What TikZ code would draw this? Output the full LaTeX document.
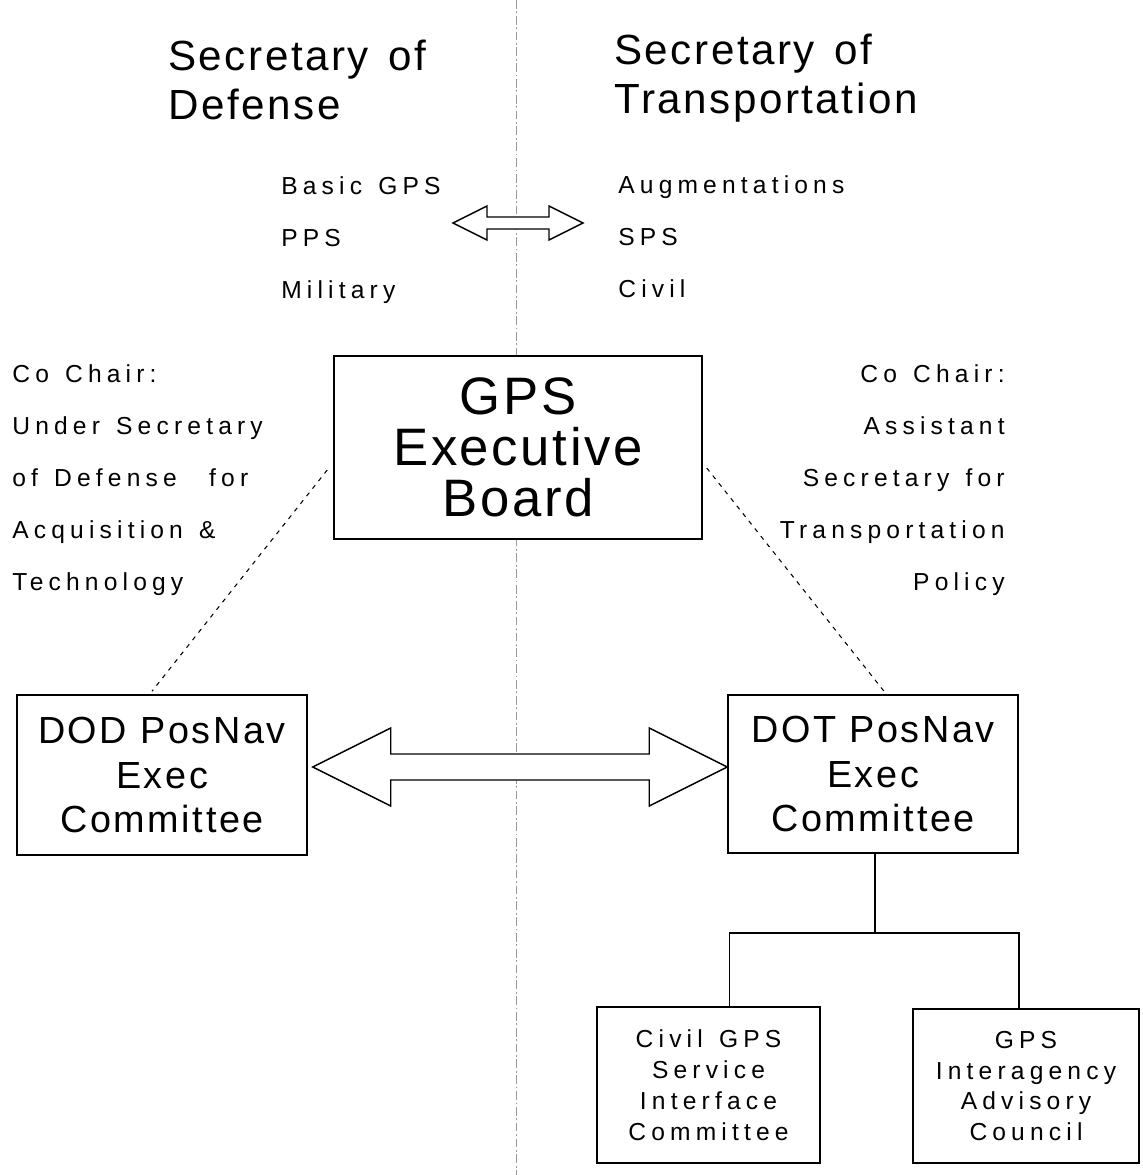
\documentclass[tikz,border=0pt]{standalone}
\usepackage{fontspec}
\setmainfont{Liberation Sans}
\newfontfamily\hdfont{Liberation Sans}[LetterSpace=6,WordSpace=1.4]
\newfontfamily\bxfont{Liberation Sans}[LetterSpace=5]
\newfontfamily\cmfont{Liberation Sans}[LetterSpace=7]
\newfontfamily\smfont{Liberation Sans}[LetterSpace=21,WordSpace=1.35]
\usepackage{tikz}
\usetikzlibrary{positioning}
\usetikzlibrary{calc}
\tikzstyle{box}=[rectangle,draw,fill=white,line width=0.9pt,align=center,inner sep=0pt]
\tikzset{hd/.style={align=left,inner sep=0pt,font={\hdfont\fontsize{24}{28.3}\selectfont}}}
\tikzset{sm/.style={inner sep=0pt,font={\smfont\fontsize{14}{29.5}\selectfont}}}
\tikzset{lnk/.style={line width=0.6pt,dash pattern=on 2.5pt off 3pt}}
\tikzset{fat/.style={draw,fill=white,line width=0.8pt,line join=miter}}

\begin{document}
\begin{tikzpicture}[x=0.02cm, y=-0.02cm]

    \useasboundingbox (0,0) rectangle (1142,1175);

    % dividing line
    \draw[gray!80, line width=0.4pt, dash pattern=on 5pt off 1.5pt on 1pt off 1.5pt] (516,0) -- (516,1175);

    \node[hd, anchor=west] (secdef) at (168,80) {Secretary of\\Defense};
    \node[hd, anchor=west] (secdot) at (614,78) {Secretary of\\Transportation};

    \node[sm, align=left, anchor=west] (dodsvc) at (281,240) {Basic GPS\\PPS\\Military};
    \node[sm, align=left, anchor=west] (dotsvc) at (618,237) {Augmentations\\SPS\\Civil};

    \coordinate (swapL) at (453,223);
    \coordinate (swapR) at (583,223);
    \draw[fat] (swapL) -- ($(swapL)+(34,-17)$) -- ($(swapL)+(34,-6)$) -- ($(swapR)+(-34,-6)$)
        -- ($(swapR)+(-34,-17)$) -- (swapR) -- ($(swapR)+(-34,17)$) -- ($(swapR)+(-34,6)$)
        -- ($(swapL)+(34,6)$) -- ($(swapL)+(34,17)$) -- cycle;

    \node[sm, align=left, anchor=west] (cochd) at (12,480)
        {Co Chair:\\Under Secretary\\of Defense\ \ for\\Acquisition \&\\Technology};
    \node[sm, align=right, anchor=east] (cocht) at (1005,480)
        {Co Chair:\\Assistant\\Secretary for\\Transportation\\Policy};

    \node[box, minimum width=7.36cm, minimum height=3.66cm, font={\bxfont\fontsize{30}{29}\selectfont}]
        (gpseb) at (518,447.5) {GPS\\Executive\\Board};

    \node[box, minimum width=5.8cm, minimum height=3.2cm, font={\cmfont\fontsize{21.5}{25.5}\selectfont}]
        (dod) at (162,775) {DOD PosNav\\Exec\\Committee};
    \node[box, minimum width=5.8cm, minimum height=3.16cm, font={\cmfont\fontsize{21.5}{25.5}\selectfont}]
        (dot) at (873,774) {DOT PosNav\\Exec\\Committee};

    \node[box, minimum width=4.46cm, minimum height=3.12cm, font={\smfont\fontsize{14}{17.6}\selectfont}]
        (cgsic) at (708.5,1085) {Civil GPS\\Service\\Interface\\Committee};
    \node[box, minimum width=4.52cm, minimum height=3.08cm, font={\smfont\fontsize{14}{17.6}\selectfont}]
        (giac) at (1026,1086) {GPS\\Interagency\\Advisory\\Council};

    \draw[lnk] ($(gpseb.west)+(-6,22.5)$) -- ($(dod.north)+(-10,-3)$);
    \draw[lnk] ($(gpseb.east)+(4,20.5)$) -- ($(dot.north)+(11,-3)$);

    \coordinate (bigL) at ($(dod.east)+(5,-8)$);
    \coordinate (bigR) at ($(dot.west)+(0,-7)$);
    \draw[fat] (bigL) -- ($(bigL)+(78,-39)$) -- ($(bigL)+(78,-13)$) -- ($(bigR)+(-78,-13)$)
        -- ($(bigR)+(-78,-39)$) -- (bigR) -- ($(bigR)+(-78,39)$) -- ($(bigR)+(-78,13)$)
        -- ($(bigL)+(78,13)$) -- ($(bigL)+(78,39)$) -- cycle;

    \coordinate (split) at ($(dot.south)+(2,79)$);
    \draw[line width=0.9pt] ($(dot.south)+(2,0)$) -- (split);
    \draw[line width=0.9pt] ($(cgsic.north)+(21,0)$) |- (split) -| ($(giac.north)+(-7,0)$);

\end{tikzpicture}
\end{document}
